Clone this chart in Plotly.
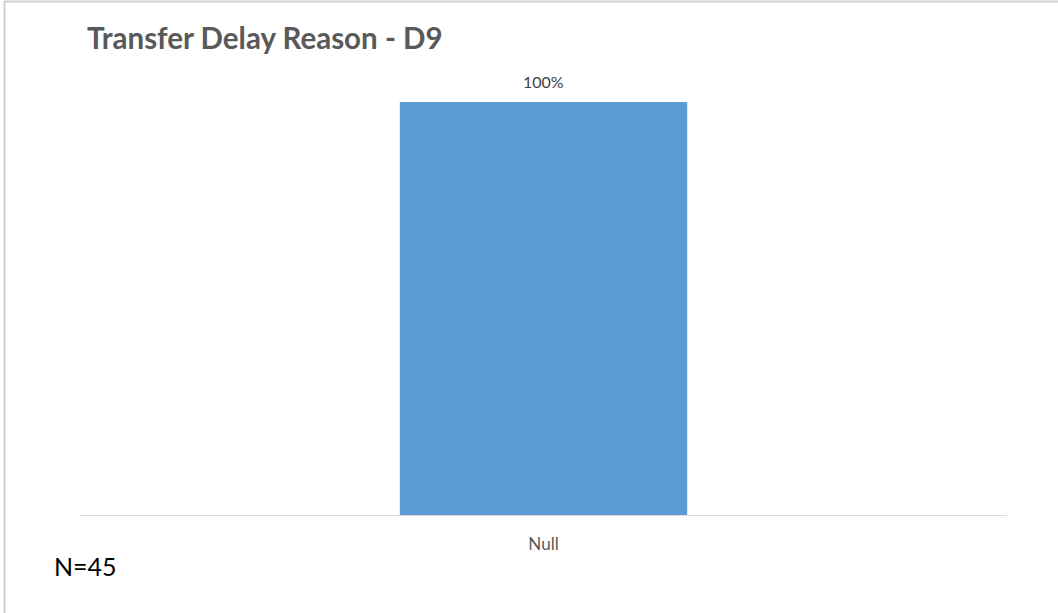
import plotly.graph_objects as go

categories = ["Null"]
values = [1.0]
labels = ["100%"]
title_text = "Transfer Delay Reason - D9"
note_text = "N=45"

W, H = 1058, 613
L, R, T, B = 80, 51, 102, 98
PW, PH = W - L - R, H - T - B


def px(x):
    return (x - L) / PW


def py(y):
    return (H - B - y) / PH


fig = go.Figure()
fig.add_trace(go.Bar(
    x=categories, y=values,
    marker=dict(color="#5B9BD5", line=dict(width=0)),
    width=0.31, hoverinfo="skip",
))

annotations = [
    dict(x=c, y=v, text=t, xref="x", yref="y", yanchor="bottom", yshift=9,
         showarrow=False, font=dict(family="Lato", size=16, color="#404040"))
    for c, v, t in zip(categories, values, labels)
]
annotations += [
    dict(text="<b>" + title_text + "</b>", xref="paper", yref="paper",
         x=px(85), y=py(38), xanchor="left", yanchor="middle", showarrow=False,
         font=dict(family="Lato", size=29.5, color="#595959")),
    dict(text=note_text, xref="paper", yref="paper",
         x=px(52), y=py(566), xanchor="left", yanchor="middle", showarrow=False,
         font=dict(family="Lato", size=25, color="#000000")),
]

fig.update_layout(
    width=W, height=H,
    margin=dict(l=L, r=R, t=T, b=B, autoexpand=False),
    paper_bgcolor="white", plot_bgcolor="white",
    showlegend=False,
    xaxis=dict(range=[-0.5, 0.5], showline=True, linecolor="#D9D9D9", linewidth=1,
               showgrid=False, ticks="", zeroline=False,
               tickfont=dict(family="Lato", size=17, color="#595959")),
    yaxis=dict(range=[0, 1], visible=False, showgrid=False, zeroline=False),
    annotations=annotations,
    shapes=[
        dict(type="line", xref="paper", yref="paper",
             x0=px(4), x1=px(W), y0=py(1.5), y1=py(1.5),
             line=dict(color="#D0D0D0", width=2)),
        dict(type="line", xref="paper", yref="paper",
             x0=px(4.5), x1=px(4.5), y0=py(H), y1=py(1),
             line=dict(color="#D0D0D0", width=2)),
    ],
)
fig.update_xaxes(ticklabelstandoff=14)
fig.write_html("out.html", config={"displayModeBar": False},
               post_script="document.body.style.margin='0';document.body.style.overflow='hidden';")
